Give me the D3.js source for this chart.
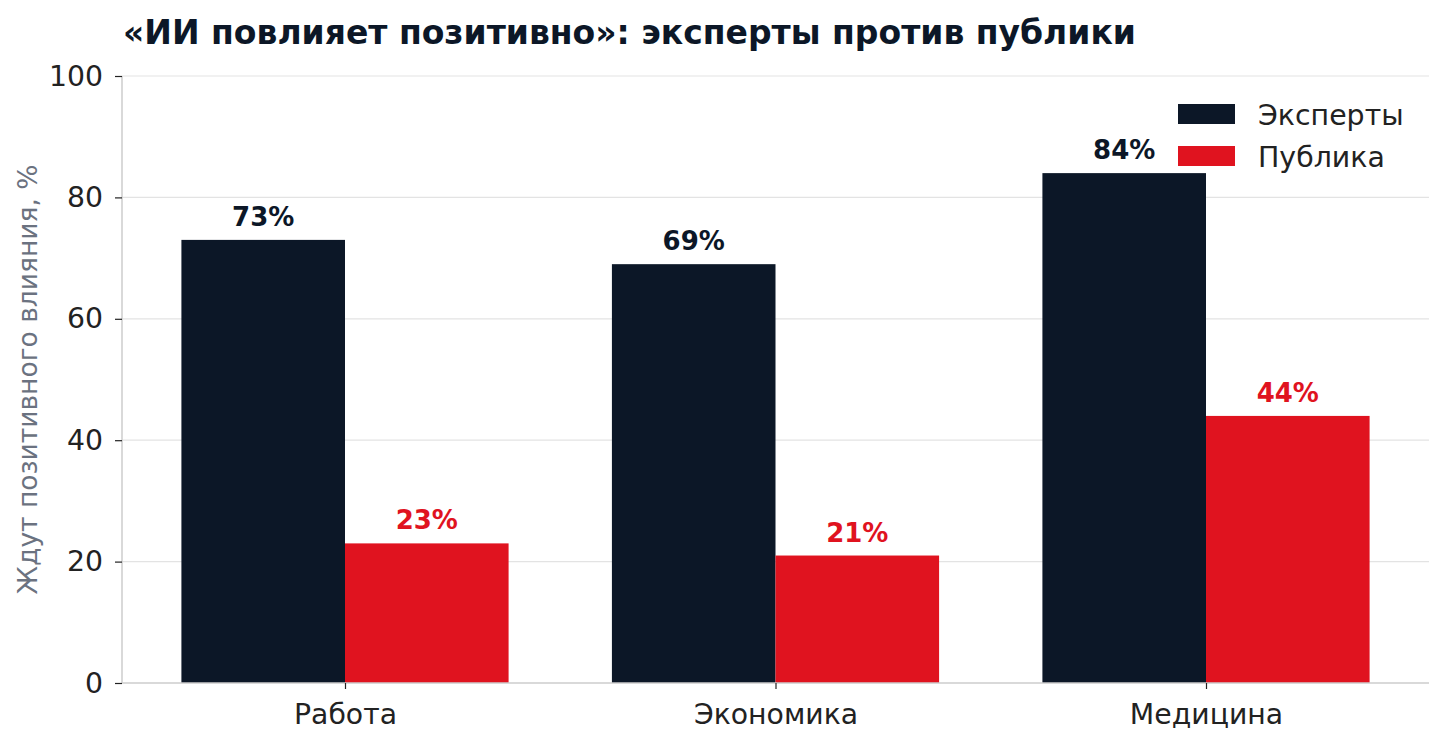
<!DOCTYPE html>
<html>
  <head>
    <meta charset="UTF-8">
    <script src="https://d3js.org/d3.v7.min.js"></script>
    <style>
      body { margin: 0; background: #fff; }
      text { font-family: "DejaVu Sans", sans-serif; }
    </style>
  </head>
  <body>
    <svg id="chart" width="1445" height="746"></svg>
    <script>
      // данные
      var categories = ['Работа', 'Экономика', 'Медицина'];
      var experts = [73, 69, 84];
      var publicVals = [23, 21, 44];
      var seriesNames = ['Эксперты', 'Публика'];
      var yTicks = [0, 20, 40, 60, 80, 100];

      var navy = '#0c1727', red = '#e0131f';
      var mLeft = 122, mRight = 1429, mTop = 76, mBottom = 683;
      var barW = 0.38;

      var svg = d3.select('#chart');

      var x = d3.scaleLinear().domain([-0.518, 2.518]).range([mLeft, mRight]);
      var y = d3.scaleLinear().domain([0, 100]).range([mBottom, mTop]);

      // сетка
      svg.append('g').selectAll('line')
        .data(yTicks.filter(function(d) { return d > 0; }))
        .enter().append('line')
        .attr('x1', mLeft).attr('x2', mRight)
        .attr('y1', function(d) { return y(d); })
        .attr('y2', function(d) { return y(d); })
        .attr('stroke', '#e3e3e3').attr('stroke-width', 1.2);

      var series = [
        { name: seriesNames[0], values: experts, color: navy, off: -barW / 2 },
        { name: seriesNames[1], values: publicVals, color: red, off: barW / 2 }
      ];

      series.forEach(function(s) {
        var g = svg.append('g');
        g.selectAll('rect').data(s.values).enter().append('rect')
          .attr('x', function(d, i) { return x(i + s.off - barW / 2); })
          .attr('width', x(barW) - x(0))
          .attr('y', function(d) { return y(d); })
          .attr('height', function(d) { return y(0) - y(d); })
          .attr('fill', s.color);
        g.selectAll('text').data(s.values).enter().append('text')
          .attr('x', function(d, i) { return x(i + s.off); })
          .attr('y', function(d) { return y(d) - 14; })
          .attr('text-anchor', 'middle')
          .attr('font-size', 26)
          .attr('font-weight', 'bold')
          .attr('fill', s.color)
          .text(function(d) { return d + '%'; });
      });

      // оси
      var yAxis = d3.axisLeft(y).tickValues(yTicks).tickSize(7).tickPadding(12);
      var gy = svg.append('g').attr('transform', 'translate(' + mLeft + ',0)').call(yAxis);
      var xAxis = d3.axisBottom(x).tickValues([0, 1, 2])
        .tickFormat(function(d) { return categories[d]; }).tickSize(6).tickPadding(8);
      var gx = svg.append('g').attr('transform', 'translate(0,' + mBottom + ')').call(xAxis);

      [gy, gx].forEach(function(g) {
        g.select('.domain').attr('stroke', '#cccccc').attr('stroke-width', 1.5);
        g.selectAll('.tick line').attr('stroke', '#222').attr('stroke-width', 1.2);
        g.selectAll('.tick text').attr('font-size', 28.3).attr('fill', '#222')
          .attr('font-family', '"DejaVu Sans", sans-serif');
      });
      gy.select('.domain').attr('d', 'M0,' + mBottom + 'V' + mTop);
      gx.select('.domain').attr('d', 'M' + mLeft + ',0H' + mRight);
      gx.selectAll('.tick text').attr('dy', '0.95em');

      // подпись оси Y
      svg.append('text')
        .attr('transform', 'translate(37,' + ((mTop + mBottom) / 2) + ') rotate(-90)')
        .attr('text-anchor', 'middle')
        .attr('font-size', 26.5)
        .attr('fill', '#6b7280')
        .text('Ждут позитивного влияния, %');

      // заголовок
      svg.append('text')
        .attr('x', 123).attr('y', 44)
        .attr('font-size', 33)
        .attr('font-weight', 'bold')
        .attr('fill', '#0c1727')
        .text('«ИИ повлияет позитивно»: эксперты против публики');

      // легенда
      var lg = svg.append('g');
      series.forEach(function(s, i) {
        lg.append('rect').attr('x', 1178).attr('y', 104 + i * 42)
          .attr('width', 57).attr('height', 20).attr('fill', s.color);
        lg.append('text').attr('x', 1258).attr('y', 115 + i * 42)
          .attr('dy', '0.35em').attr('font-size', 28.4)
          .attr('fill', '#222').text(s.name);
      });
    </script>
  </body>
</html>
